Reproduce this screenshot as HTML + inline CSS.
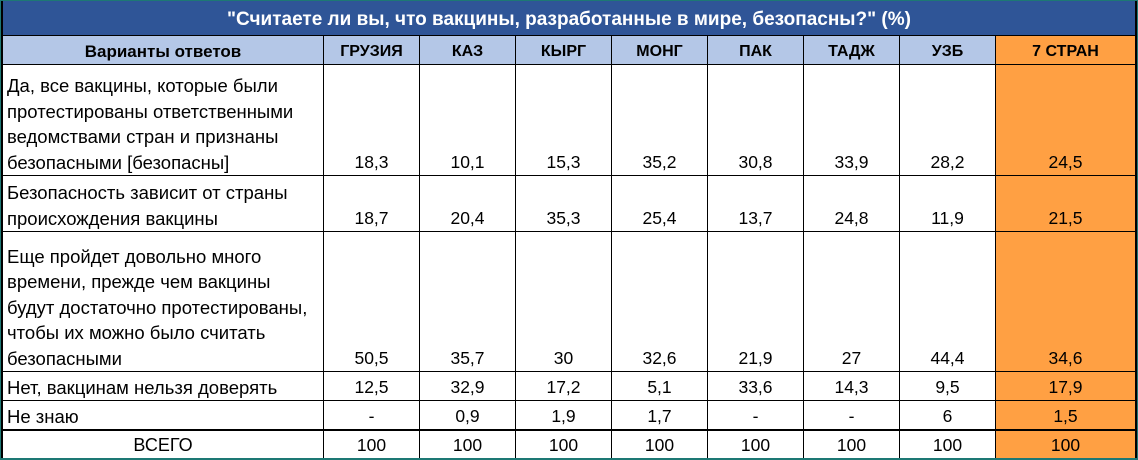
<!DOCTYPE html>
<html>
<head>
<meta charset="utf-8">
<style>
  html, body { margin:0; padding:0; }
  body { width:1138px; height:460px; position:relative; overflow:hidden; background:#ffffff;
         font-family:"Liberation Sans", "DejaVu Sans", sans-serif; color:#000; }
  .abs { position:absolute; }
  .hl { position:absolute; left:3px; width:1132px; height:1px; background:#000; }
  .vl { position:absolute; top:35px; height:423px; width:1px; background:#000; }
  .cell { position:absolute; display:flex; align-items:flex-end; justify-content:center;
          font-size:17.5px; line-height:25.5px; white-space:nowrap; }
  .lab { position:absolute; display:flex; align-items:flex-end; justify-content:flex-start;
         font-size:18.5px; line-height:25.5px; white-space:nowrap; left:7px; width:314px; }
  .hd { position:absolute; top:36px; height:28px; display:flex; align-items:center; justify-content:center;
        font-weight:bold; font-size:16px; padding-top:3px; box-sizing:border-box; white-space:nowrap; }
</style>
</head>
<body>
  <!-- frame -->
  <div class="abs" style="left:0;top:0;width:1138px;height:460px;background:#1d7874;"></div>
  <div class="abs" style="left:1px;top:1px;width:1136px;height:457px;background:#000;"></div>
  <div class="abs" style="left:3px;top:1px;width:1132px;height:457px;background:#fff;"></div>

  <!-- title -->
  <div class="abs" style="left:3px;top:1px;width:1132px;height:34px;background:#2f5597;color:#fff;font-weight:bold;font-size:19px;display:flex;align-items:center;justify-content:center;padding-top:4px;box-sizing:border-box;white-space:nowrap;">"Считаете ли вы, что вакцины, разработанные в мире, безопасны?" (%)</div>

  <!-- header bg -->
  <div class="abs" style="left:3px;top:36px;width:993px;height:28px;background:#b4c7e7;"></div>
  <!-- orange column -->
  <div class="abs" style="left:996px;top:36px;width:139px;height:422px;background:#ffa043;"></div>

  <!-- horizontal lines -->
  <div class="hl" style="top:35px;"></div>
  <div class="hl" style="top:64px;"></div>
  <div class="hl" style="top:175px;"></div>
  <div class="hl" style="top:231px;"></div>
  <div class="hl" style="top:371px;"></div>
  <div class="hl" style="top:400px;"></div>
  <div class="hl" style="top:429px;height:2px;"></div>

  <!-- vertical lines -->
  <div class="vl" style="left:323px;"></div>
  <div class="vl" style="left:419px;"></div>
  <div class="vl" style="left:515px;"></div>
  <div class="vl" style="left:611px;"></div>
  <div class="vl" style="left:707px;"></div>
  <div class="vl" style="left:803px;"></div>
  <div class="vl" style="left:899px;"></div>
  <div class="vl" style="left:995px;"></div>

  <!-- header texts -->
  <div class="hd" style="left:3px;width:320px;font-size:17px;">Варианты ответов</div>
  <div class="hd" style="left:324px;width:95px;">ГРУЗИЯ</div>
  <div class="hd" style="left:420px;width:95px;">КАЗ</div>
  <div class="hd" style="left:516px;width:95px;">КЫРГ</div>
  <div class="hd" style="left:612px;width:95px;">МОНГ</div>
  <div class="hd" style="left:708px;width:95px;">ПАК</div>
  <div class="hd" style="left:804px;width:95px;">ТАДЖ</div>
  <div class="hd" style="left:900px;width:95px;">УЗБ</div>
  <div class="hd" style="left:996px;width:139px;">7 СТРАН</div>

  <!-- Row 1: 65..175 -->
  <div class="lab" style="top:65px;height:110px;">Да, все вакцины, которые были<br>протестированы ответственными<br>ведомствами стран и признаны<br>безопасными [безопасны]</div>
  <div class="cell" style="top:65px;height:110px;left:324px;width:95px;">18,3</div>
  <div class="cell" style="top:65px;height:110px;left:420px;width:95px;">10,1</div>
  <div class="cell" style="top:65px;height:110px;left:516px;width:95px;">15,3</div>
  <div class="cell" style="top:65px;height:110px;left:612px;width:95px;">35,2</div>
  <div class="cell" style="top:65px;height:110px;left:708px;width:95px;">30,8</div>
  <div class="cell" style="top:65px;height:110px;left:804px;width:95px;">33,9</div>
  <div class="cell" style="top:65px;height:110px;left:900px;width:95px;">28,2</div>
  <div class="cell" style="top:65px;height:110px;left:996px;width:139px;">24,5</div>

  <!-- Row 2: 176..231 -->
  <div class="lab" style="top:176px;height:55px;">Безопасность зависит от страны<br>происхождения вакцины</div>
  <div class="cell" style="top:176px;height:55px;left:324px;width:95px;">18,7</div>
  <div class="cell" style="top:176px;height:55px;left:420px;width:95px;">20,4</div>
  <div class="cell" style="top:176px;height:55px;left:516px;width:95px;">35,3</div>
  <div class="cell" style="top:176px;height:55px;left:612px;width:95px;">25,4</div>
  <div class="cell" style="top:176px;height:55px;left:708px;width:95px;">13,7</div>
  <div class="cell" style="top:176px;height:55px;left:804px;width:95px;">24,8</div>
  <div class="cell" style="top:176px;height:55px;left:900px;width:95px;">11,9</div>
  <div class="cell" style="top:176px;height:55px;left:996px;width:139px;">21,5</div>

  <!-- Row 3: 232..371 -->
  <div class="lab" style="top:232px;height:139px;">Еще пройдет довольно много<br>времени, прежде чем вакцины<br>будут достаточно протестированы,<br>чтобы их можно было считать<br>безопасными</div>
  <div class="cell" style="top:232px;height:139px;left:324px;width:95px;">50,5</div>
  <div class="cell" style="top:232px;height:139px;left:420px;width:95px;">35,7</div>
  <div class="cell" style="top:232px;height:139px;left:516px;width:95px;">30</div>
  <div class="cell" style="top:232px;height:139px;left:612px;width:95px;">32,6</div>
  <div class="cell" style="top:232px;height:139px;left:708px;width:95px;">21,9</div>
  <div class="cell" style="top:232px;height:139px;left:804px;width:95px;">27</div>
  <div class="cell" style="top:232px;height:139px;left:900px;width:95px;">44,4</div>
  <div class="cell" style="top:232px;height:139px;left:996px;width:139px;">34,6</div>

  <!-- Row 4: 372..400 -->
  <div class="lab" style="top:372px;height:28px;">Нет, вакцинам нельзя доверять</div>
  <div class="cell" style="top:372px;height:28px;left:324px;width:95px;">12,5</div>
  <div class="cell" style="top:372px;height:28px;left:420px;width:95px;">32,9</div>
  <div class="cell" style="top:372px;height:28px;left:516px;width:95px;">17,2</div>
  <div class="cell" style="top:372px;height:28px;left:612px;width:95px;">5,1</div>
  <div class="cell" style="top:372px;height:28px;left:708px;width:95px;">33,6</div>
  <div class="cell" style="top:372px;height:28px;left:804px;width:95px;">14,3</div>
  <div class="cell" style="top:372px;height:28px;left:900px;width:95px;">9,5</div>
  <div class="cell" style="top:372px;height:28px;left:996px;width:139px;">17,9</div>

  <!-- Row 5: 401..429 -->
  <div class="lab" style="top:401px;height:28px;">Не знаю</div>
  <div class="cell" style="top:401px;height:28px;left:324px;width:95px;">-</div>
  <div class="cell" style="top:401px;height:28px;left:420px;width:95px;">0,9</div>
  <div class="cell" style="top:401px;height:28px;left:516px;width:95px;">1,9</div>
  <div class="cell" style="top:401px;height:28px;left:612px;width:95px;">1,7</div>
  <div class="cell" style="top:401px;height:28px;left:708px;width:95px;">-</div>
  <div class="cell" style="top:401px;height:28px;left:804px;width:95px;">-</div>
  <div class="cell" style="top:401px;height:28px;left:900px;width:95px;">6</div>
  <div class="cell" style="top:401px;height:28px;left:996px;width:139px;">1,5</div>

  <!-- Row 6: 431..458 -->
  <div class="cell" style="top:431px;height:27px;left:3px;width:320px;font-size:18px;">ВСЕГО</div>
  <div class="cell" style="top:431px;height:27px;left:324px;width:95px;">100</div>
  <div class="cell" style="top:431px;height:27px;left:420px;width:95px;">100</div>
  <div class="cell" style="top:431px;height:27px;left:516px;width:95px;">100</div>
  <div class="cell" style="top:431px;height:27px;left:612px;width:95px;">100</div>
  <div class="cell" style="top:431px;height:27px;left:708px;width:95px;">100</div>
  <div class="cell" style="top:431px;height:27px;left:804px;width:95px;">100</div>
  <div class="cell" style="top:431px;height:27px;left:900px;width:95px;">100</div>
  <div class="cell" style="top:431px;height:27px;left:996px;width:139px;">100</div>
</body>
</html>
